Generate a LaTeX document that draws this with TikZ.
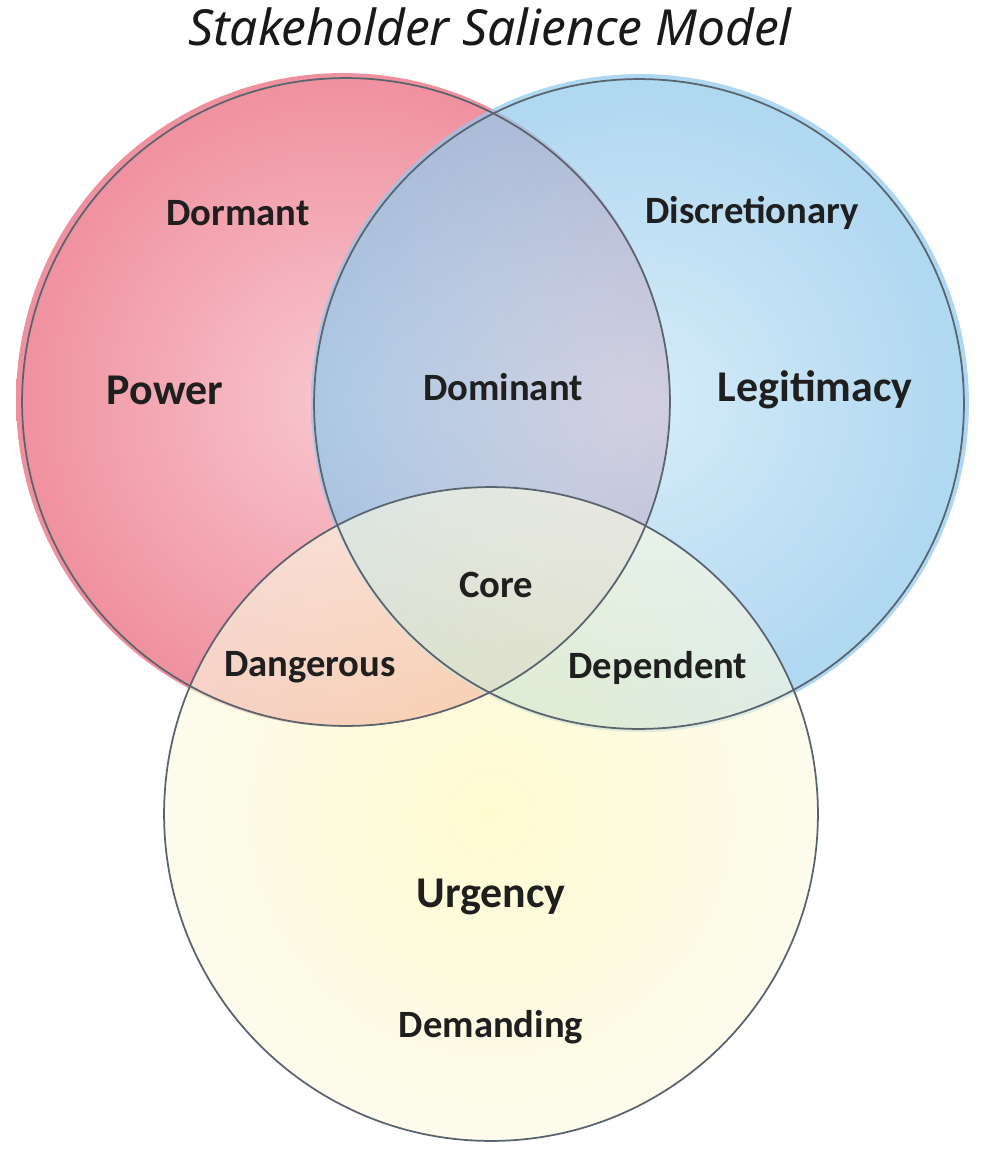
\documentclass[tikz,border=0pt]{standalone}
\usepackage{fontspec}
\setmainfont{Carlito}
\newfontfamily\titlefont{Noto Sans}
\usetikzlibrary{positioning}
\definecolor{cpower}{HTML}{F0909F}
\definecolor{cpowerlt}{HTML}{F8C8D0}
\definecolor{clegit}{HTML}{92C9EC}
\definecolor{clegitlt}{HTML}{C8E5F6}
\definecolor{curgency}{HTML}{FBFAE2}
\definecolor{curgencylt}{HTML}{FFF8B4}
\definecolor{crim}{HTML}{5A646E}
\tikzset{
  every picture/.style={x=0.02cm, y=-0.02cm, line width=1pt},
  set/.style={circle, inner sep=0pt, minimum size=#1},
  rim/.style={set=#1, draw=crim},
  zone/.style={font=\fontsize{22}{24}\selectfont\bfseries, text=black!88},
  attr/.style={font=\fontsize{25}{28}\selectfont\bfseries, text=black!88},
  title/.style={font=\titlefont\itshape\fontsize{28.3}{32}\selectfont, text=black!90},
}
\begin{document}
\begin{tikzpicture}
  \useasboundingbox (0,0) rectangle (1004,1156);
  % watercolour fills
  \shade[inner color=cpowerlt, outer color=cpower] (343,400) circle [radius=6.54cm];
  \shade[inner color=clegitlt, outer color=clegit, opacity=0.74] (640,403) circle [radius=6.58cm];
  \shade[inner color=curgencylt, outer color=curgency, opacity=0.62] (491,814) circle [radius=6.54cm];
  % outlines
  \node[rim=12.96cm] (power) at (346,402) {};
  \node[rim=13cm] (legit) at (639,404) {};
  \node[rim=13.08cm] (urgency) at (491,814) {};
  % labels
  \node[title] (head) at (490,27) {Stakeholder Salience Model};
  \node[attr] (powerlbl) at (165,390) {Power};
  \node[attr] (legitlbl) at (815,390) {Legitimacy};
  \node[attr] (urgencylbl) at (491,897) {Urgency};
  \node[zone] (dormant) at (238,213) {Dormant};
  \node[zone] (discr) at (752,213) {Discretionary};
  \node[zone] (dominant) at (503,387) {Dominant};
  \node[zone] (core) at (496,585) {Core};
  \node[zone] (danger) at (310,667) {Dangerous};
  \node[zone] (depend) at (658,668) {Dependent};
  \node[zone] (demand) at (491,1027) {Demanding};
\end{tikzpicture}
\end{document}
